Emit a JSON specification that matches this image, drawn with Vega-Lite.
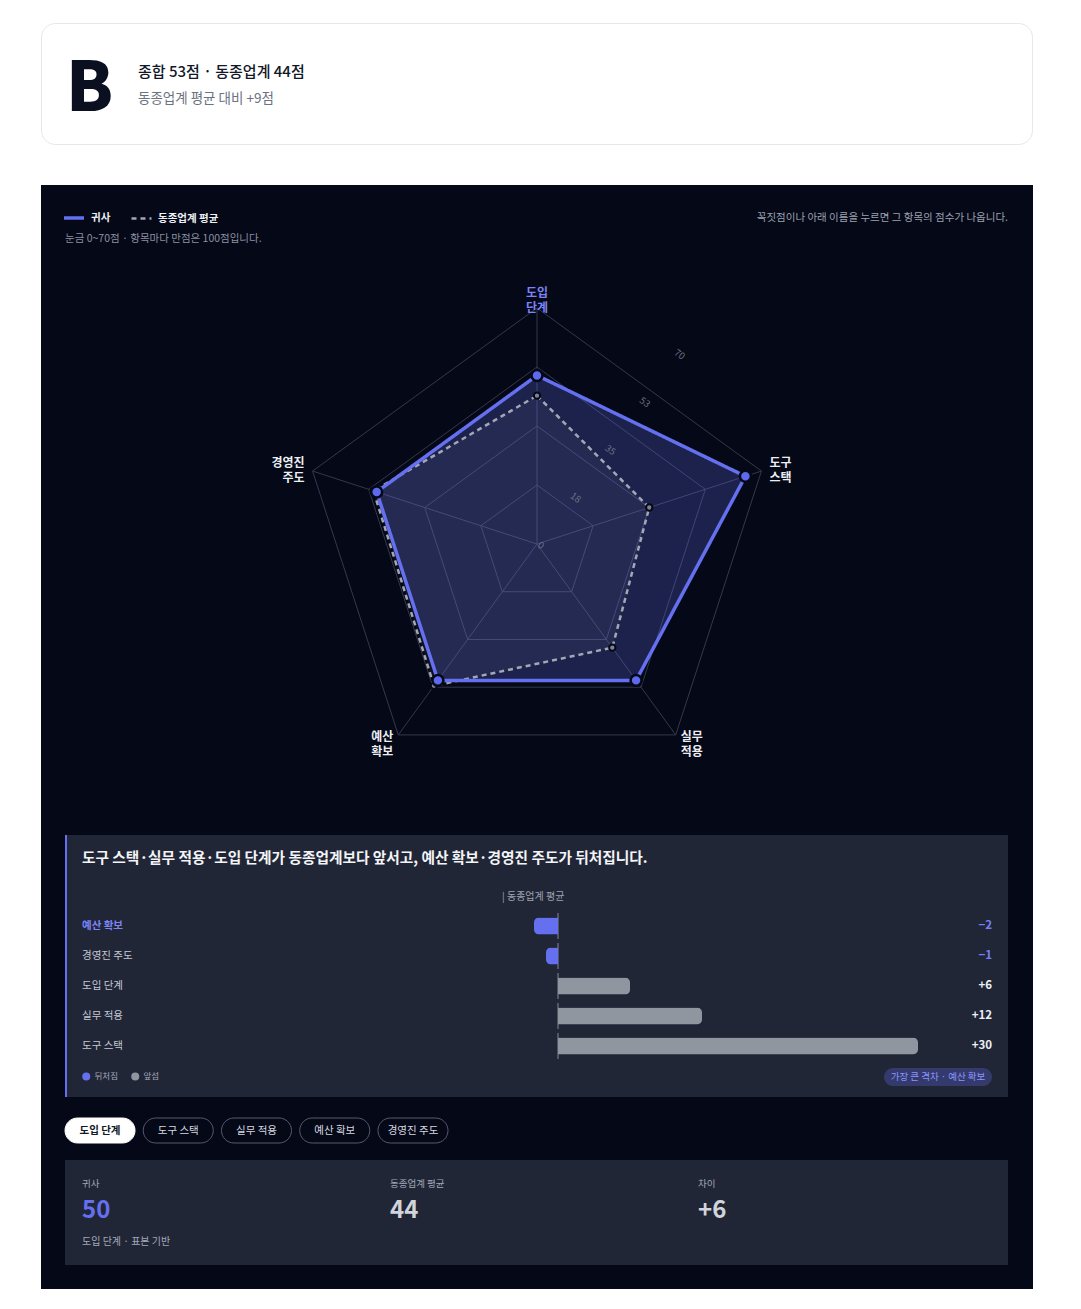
{
  "$schema": "https://vega.github.io/schema/vega-lite/v6.json",
  "background": "#ffffff",
  "padding": {"left": 40, "top": 22, "right": 49, "bottom": 20},
  "config": {"font": "Noto Sans CJK KR", "view": {"stroke": null}},
  "datasets": {
    "scores": [
      {"axis": "도입 단계", "i": 0, "series": "동종업계 평균", "score": 44},
      {"axis": "도구 스택", "i": 1, "series": "동종업계 평균", "score": 35},
      {"axis": "실무 적용", "i": 2, "series": "동종업계 평균", "score": 38},
      {"axis": "예산 확보", "i": 3, "series": "동종업계 평균", "score": 52},
      {"axis": "경영진 주도", "i": 4, "series": "동종업계 평균", "score": 51},
      {"axis": "도입 단계", "i": 0, "series": "귀사", "score": 50},
      {"axis": "도구 스택", "i": 1, "series": "귀사", "score": 65},
      {"axis": "실무 적용", "i": 2, "series": "귀사", "score": 50},
      {"axis": "예산 확보", "i": 3, "series": "귀사", "score": 50},
      {"axis": "경영진 주도", "i": 4, "series": "귀사", "score": 50}
    ],
    "rings": [
      {"i": 0, "level": 17.5}, {"i": 1, "level": 17.5}, {"i": 2, "level": 17.5}, {"i": 3, "level": 17.5}, {"i": 4, "level": 17.5},
      {"i": 0, "level": 35}, {"i": 1, "level": 35}, {"i": 2, "level": 35}, {"i": 3, "level": 35}, {"i": 4, "level": 35},
      {"i": 0, "level": 52.5}, {"i": 1, "level": 52.5}, {"i": 2, "level": 52.5}, {"i": 3, "level": 52.5}, {"i": 4, "level": 52.5},
      {"i": 0, "level": 70}, {"i": 1, "level": 70}, {"i": 2, "level": 70}, {"i": 3, "level": 70}, {"i": 4, "level": 70}
    ],
    "ticks": [{"level": 0}, {"level": 17.5}, {"level": 35}, {"level": 52.5}, {"level": 70}],
    "gaps": [
      {"axis": "예산 확보", "gap": -2},
      {"axis": "경영진 주도", "gap": -1},
      {"axis": "도입 단계", "gap": 6},
      {"axis": "실무 적용", "gap": 12},
      {"axis": "도구 스택", "gap": 30}
    ],
    "chips": [
      {"chip": "도입 단계", "on": true},
      {"chip": "도구 스택", "on": false},
      {"chip": "실무 적용", "on": false},
      {"chip": "예산 확보", "on": false},
      {"chip": "경영진 주도", "on": false}
    ],
    "summary": [
      {"k": "귀사", "v": 50},
      {"k": "동종업계 평균", "v": 44},
      {"k": "차이", "v": 6}
    ],
    "overall": [{"grade": "B", "total": 53, "peer": 44}]
  },
  "spacing": 40,
  "resolve": {"scale": {"color": "independent", "strokeDash": "independent", "strokeWidth": "independent", "fill": "independent", "stroke": "independent"}},
  "vconcat": [
    {
      "width": 991, "height": 121,
      "view": {"fill": "#ffffff", "stroke": "#e5e7eb", "strokeWidth": 1, "cornerRadius": 14},
      "data": {"name": "overall"},
      "transform": [
        {"calculate": "'종합 ' + datum.total + '점 · 동종업계 ' + datum.peer + '점'", "as": "headline"},
        {"calculate": "'동종업계 평균 대비 +' + (datum.total - datum.peer) + '점'", "as": "sub"}
      ],
      "layer": [
        {"mark": {"type": "text", "fontSize": 68, "fontWeight": 800, "color": "#0b1020", "align": "left", "baseline": "alphabetic"},
         "encoding": {"x": {"value": 25}, "y": {"value": 88}, "text": {"field": "grade"}}},
        {"mark": {"type": "text", "fontSize": 15, "fontWeight": 500, "color": "#111827", "align": "left", "baseline": "middle"},
         "encoding": {"x": {"value": 97}, "y": {"value": 49}, "text": {"field": "headline"}}},
        {"mark": {"type": "text", "fontSize": 13.5, "color": "#6b7280", "align": "left", "baseline": "middle"},
         "encoding": {"x": {"value": 97}, "y": {"value": 76}, "text": {"field": "sub"}}}
      ]
    },
    {
      "spacing": 0,
      "resolve": {"scale": {"color": "independent", "strokeDash": "independent", "strokeWidth": "independent", "fill": "independent", "stroke": "independent"}},
      "vconcat": [
        {
          "width": 992, "height": 650,
          "view": {"fill": "#050816", "stroke": null},
          "layer": [
            {
              "data": {"name": "rings"},
              "transform": [
                {"calculate": "datum.level * sin(datum.i * 2 * PI / 5)", "as": "px"},
                {"calculate": "datum.level * cos(datum.i * 2 * PI / 5)", "as": "py"}
              ],
              "mark": {"type": "line", "interpolate": "linear-closed", "stroke": "#33384d", "strokeWidth": 1},
              "encoding": {
                "x": {"field": "px", "type": "quantitative", "scale": {"domain": [-147.12, 147.12], "nice": false, "zero": false}, "axis": null},
                "y": {"field": "py", "type": "quantitative", "scale": {"domain": [-86.31, 106.48], "nice": false, "zero": false}, "axis": null},
                "detail": {"field": "level", "type": "nominal"},
                "order": {"field": "i", "type": "quantitative"}
              }
            },
            {
              "data": {"name": "rings"},
              "transform": [
                {"filter": "datum.level == 70"},
                {"calculate": "datum.level * sin(datum.i * 2 * PI / 5)", "as": "px"},
                {"calculate": "datum.level * cos(datum.i * 2 * PI / 5)", "as": "py"}
              ],
              "mark": {"type": "rule", "stroke": "#33384d", "strokeWidth": 1},
              "encoding": {
                "x": {"field": "px", "type": "quantitative"},
                "y": {"field": "py", "type": "quantitative"},
                "x2": {"datum": 0},
                "y2": {"datum": 0}
              }
            },
            {
              "data": {"name": "scores"},
              "transform": [
                {"filter": "datum.series == '귀사'"},
                {"calculate": "datum.score * sin(datum.i * 2 * PI / 5)", "as": "px"},
                {"calculate": "datum.score * cos(datum.i * 2 * PI / 5)", "as": "py"}
              ],
              "mark": {"type": "line", "interpolate": "linear-closed", "fill": "#6470f0", "fillOpacity": 0.25, "strokeOpacity": 0},
              "encoding": {
                "x": {"field": "px", "type": "quantitative"},
                "y": {"field": "py", "type": "quantitative"},
                "order": {"field": "i", "type": "quantitative"}
              }
            },
            {
              "data": {"name": "scores"},
              "transform": [
                {"filter": "datum.series == '동종업계 평균'"},
                {"calculate": "datum.score * sin(datum.i * 2 * PI / 5)", "as": "px"},
                {"calculate": "datum.score * cos(datum.i * 2 * PI / 5)", "as": "py"}
              ],
              "mark": {"type": "line", "interpolate": "linear-closed", "fill": "#a3a7b3", "fillOpacity": 0.06, "strokeOpacity": 0},
              "encoding": {
                "x": {"field": "px", "type": "quantitative"},
                "y": {"field": "py", "type": "quantitative"},
                "order": {"field": "i", "type": "quantitative"}
              }
            },
            {
              "data": {"name": "scores"},
              "transform": [
                {"calculate": "datum.score * sin(datum.i * 2 * PI / 5)", "as": "px"},
                {"calculate": "datum.score * cos(datum.i * 2 * PI / 5)", "as": "py"}
              ],
              "mark": {"type": "line", "interpolate": "linear-closed"},
              "encoding": {
                "x": {"field": "px", "type": "quantitative"},
                "y": {"field": "py", "type": "quantitative"},
                "order": {"field": "i", "type": "quantitative"},
                "color": {"field": "series", "type": "nominal",
                  "scale": {"domain": ["귀사", "동종업계 평균"], "range": ["#6470f0", "#a3a7b3"]},
                  "legend": {"orient": "none", "legendX": 21, "legendY": 21, "direction": "horizontal", "title": null, "symbolType": "stroke", "symbolSize": 400, "symbolStrokeWidth": 2, "labelColor": "#eef0f5", "labelFontSize": 10.5, "labelFontWeight": "bold", "columnPadding": 15, "labelOffset": 5}},
                "strokeDash": {"field": "series", "type": "nominal",
                  "scale": {"domain": ["귀사", "동종업계 평균"], "range": [[1, 0], [5, 4]]},
                  "legend": {"orient": "none", "legendX": 21, "legendY": 21, "direction": "horizontal", "title": null, "symbolType": "stroke", "symbolSize": 400, "symbolStrokeWidth": 2, "labelColor": "#eef0f5", "labelFontSize": 10.5, "labelFontWeight": "bold", "columnPadding": 15, "labelOffset": 5}},
                "strokeWidth": {"field": "series", "type": "ordinal", "scale": {"domain": ["귀사", "동종업계 평균"], "range": [3.5, 2.5]}, "legend": null}
              }
            },
            {
              "data": {"name": "scores"},
              "transform": [
                {"filter": "datum.series == '동종업계 평균'"},
                {"calculate": "datum.score * sin(datum.i * 2 * PI / 5)", "as": "px"},
                {"calculate": "datum.score * cos(datum.i * 2 * PI / 5)", "as": "py"}
              ],
              "mark": {"type": "circle", "size": 40, "fill": "#7d8296", "stroke": "#050816", "strokeWidth": 2, "opacity": 1},
              "encoding": {
                "x": {"field": "px", "type": "quantitative"},
                "y": {"field": "py", "type": "quantitative"}
              }
            },
            {
              "data": {"name": "scores"},
              "transform": [
                {"filter": "datum.series == '귀사'"},
                {"calculate": "datum.score * sin(datum.i * 2 * PI / 5)", "as": "px"},
                {"calculate": "datum.score * cos(datum.i * 2 * PI / 5)", "as": "py"}
              ],
              "mark": {"type": "circle", "size": 120, "fill": "#5d69ee", "stroke": "#050816", "strokeWidth": 2.5, "opacity": 1},
              "encoding": {
                "x": {"field": "px", "type": "quantitative"},
                "y": {"field": "py", "type": "quantitative"}
              }
            },
            {
              "data": {"name": "scores"},
              "transform": [
                {"filter": "datum.series == '귀사' && datum.i == 0"},
                {"calculate": "70 * sin(datum.i * 2 * PI / 5)", "as": "px"},
                {"calculate": "70 * cos(datum.i * 2 * PI / 5)", "as": "py"}
              ],
              "mark": {"type": "text", "lineBreak": " ", "lineHeight": 15, "fontSize": 12, "fontWeight": "bold", "color": "#7b84f7", "align": "center", "baseline": "bottom", "dy": -8},
              "encoding": {"x": {"field": "px", "type": "quantitative"}, "y": {"field": "py", "type": "quantitative"}, "text": {"field": "axis"}}
            },
            {
              "data": {"name": "scores"},
              "transform": [
                {"filter": "datum.series == '귀사' && datum.i == 1"},
                {"calculate": "70 * sin(datum.i * 2 * PI / 5)", "as": "px"},
                {"calculate": "70 * cos(datum.i * 2 * PI / 5)", "as": "py"}
              ],
              "mark": {"type": "text", "lineBreak": " ", "lineHeight": 15, "fontSize": 12, "fontWeight": "bold", "color": "#eceef3", "align": "left", "baseline": "middle", "dx": 8, "dy": -8},
              "encoding": {"x": {"field": "px", "type": "quantitative"}, "y": {"field": "py", "type": "quantitative"}, "text": {"field": "axis"}}
            },
            {
              "data": {"name": "scores"},
              "transform": [
                {"filter": "datum.series == '귀사' && datum.i == 4"},
                {"calculate": "70 * sin(datum.i * 2 * PI / 5)", "as": "px"},
                {"calculate": "70 * cos(datum.i * 2 * PI / 5)", "as": "py"}
              ],
              "mark": {"type": "text", "lineBreak": " ", "lineHeight": 15, "fontSize": 12, "fontWeight": "bold", "color": "#eceef3", "align": "right", "baseline": "middle", "dx": -8, "dy": -8},
              "encoding": {"x": {"field": "px", "type": "quantitative"}, "y": {"field": "py", "type": "quantitative"}, "text": {"field": "axis"}}
            },
            {
              "data": {"name": "scores"},
              "transform": [
                {"filter": "datum.series == '귀사' && datum.i == 2"},
                {"calculate": "70 * sin(datum.i * 2 * PI / 5)", "as": "px"},
                {"calculate": "70 * cos(datum.i * 2 * PI / 5)", "as": "py"}
              ],
              "mark": {"type": "text", "lineBreak": " ", "lineHeight": 15, "fontSize": 12, "fontWeight": "bold", "color": "#eceef3", "align": "left", "baseline": "top", "dx": 5, "dy": -3},
              "encoding": {"x": {"field": "px", "type": "quantitative"}, "y": {"field": "py", "type": "quantitative"}, "text": {"field": "axis"}}
            },
            {
              "data": {"name": "scores"},
              "transform": [
                {"filter": "datum.series == '귀사' && datum.i == 3"},
                {"calculate": "70 * sin(datum.i * 2 * PI / 5)", "as": "px"},
                {"calculate": "70 * cos(datum.i * 2 * PI / 5)", "as": "py"}
              ],
              "mark": {"type": "text", "lineBreak": " ", "lineHeight": 15, "fontSize": 12, "fontWeight": "bold", "color": "#eceef3", "align": "right", "baseline": "top", "dx": -5, "dy": -3},
              "encoding": {"x": {"field": "px", "type": "quantitative"}, "y": {"field": "py", "type": "quantitative"}, "text": {"field": "axis"}}
            },
            {
              "data": {"name": "ticks"},
              "transform": [
                {"calculate": "datum.level * sin(PI / 5)", "as": "px"},
                {"calculate": "datum.level * cos(PI / 5)", "as": "py"}
              ],
              "mark": {"type": "text", "fontSize": 9.5, "color": "#6b7086", "angle": 36, "align": "center", "baseline": "middle", "dx": 4, "dy": -1},
              "encoding": {"x": {"field": "px", "type": "quantitative"}, "y": {"field": "py", "type": "quantitative"}, "text": {"field": "level", "type": "quantitative", "format": ".0f"}}
            },
            {
              "data": {"values": [{}]},
              "mark": {"type": "text", "text": "눈금 0~70점 · 항목마다 만점은 100점입니다.", "fontSize": 10.5, "color": "#8b90a3", "align": "left", "baseline": "middle"},
              "encoding": {"x": {"value": 24}, "y": {"value": 54}}
            },
            {
              "data": {"values": [{}]},
              "mark": {"type": "text", "text": "꼭짓점이나 아래 이름을 누르면 그 항목의 점수가 나옵니다.", "fontSize": 10.5, "color": "#9ca1b3", "align": "right", "baseline": "middle"},
              "encoding": {"x": {"value": 967}, "y": {"value": 33}}
            }
          ]
        },
        {
          "spacing": 0,
          "bounds": "flush",
          "resolve": {"scale": {"color": "independent"}},
          "hconcat": [
            {"width": 24, "height": 262, "view": {"fill": "#050816", "stroke": null}, "data": {"values": [{}]}, "mark": {"type": "text", "text": ""}},
            {"width": 2, "height": 262, "view": {"fill": "#6470f0", "stroke": null}, "data": {"values": [{}]}, "mark": {"type": "text", "text": ""}},
            {
              "width": 941, "height": 262,
              "view": {"fill": "#212637", "stroke": null},
              "layer": [
                {
                  "data": {"values": [{}]},
                  "mark": {"type": "text", "text": "도구 스택·실무 적용·도입 단계가 동종업계보다 앞서고, 예산 확보·경영진 주도가 뒤처집니다.", "fontSize": 14.7, "fontWeight": "bold", "color": "#f3f4f6", "align": "left", "baseline": "middle"},
                  "encoding": {"x": {"value": 15}, "y": {"value": 24}}
                },
                {
                  "data": {"values": [{}]},
                  "mark": {"type": "text", "text": "|  동종업계 평균", "fontSize": 10, "color": "#9ca3af", "align": "left", "baseline": "middle"},
                  "encoding": {"x": {"value": 435}, "y": {"value": 62}}
                },
                {
                  "data": {"name": "gaps"},
                  "transform": [{"calculate": "0", "as": "zero"}],
                  "mark": {"type": "tick", "size": 26, "thickness": 1, "color": "#9aa0b2", "opacity": 0.8},
                  "encoding": {
                    "x": {"field": "zero", "type": "quantitative", "scale": {"domain": [-40.917, 37.5], "nice": false, "zero": true}, "axis": null},
                    "y": {"field": "axis", "type": "nominal", "sort": null, "scale": {"domain": ["예산 확보", "경영진 주도", "도입 단계", "실무 적용", "도구 스택"], "range": [76, 226], "paddingInner": 0.433, "paddingOuter": 0.2167}, "axis": null}
                  }
                },
                {
                  "data": {"name": "gaps"},
                  "transform": [
                    {"filter": "datum.gap > 0"},
                    {"calculate": "datum.gap < 0 ? '뒤처짐' : '앞섬'", "as": "status"}
                  ],
                  "mark": {"type": "bar", "cornerRadiusTopRight": 5, "cornerRadiusBottomRight": 5},
                  "encoding": {
                    "x": {"field": "gap", "type": "quantitative"},
                    "y": {"field": "axis", "type": "nominal", "sort": null},
                    "color": {"field": "status", "type": "nominal",
                      "scale": {"domain": ["뒤처짐", "앞섬"], "range": ["#6470f0", "#8f969f"]},
                      "legend": {"orient": "none", "legendX": 15, "legendY": 237, "direction": "horizontal", "title": null, "symbolType": "circle", "symbolSize": 64, "symbolStrokeWidth": 0, "labelFontSize": 8.5, "labelColor": "#a3a8b8", "columnPadding": 13, "labelOffset": 4}}
                  }
                },
                {
                  "data": {"name": "gaps"},
                  "transform": [
                    {"filter": "datum.gap < 0"},
                    {"calculate": "datum.gap < 0 ? '뒤처짐' : '앞섬'", "as": "status"}
                  ],
                  "mark": {"type": "bar", "cornerRadiusTopLeft": 5, "cornerRadiusBottomLeft": 5},
                  "encoding": {
                    "x": {"field": "gap", "type": "quantitative"},
                    "y": {"field": "axis", "type": "nominal", "sort": null},
                    "color": {"field": "status", "type": "nominal"}
                  }
                },
                {
                  "data": {"name": "gaps"},
                  "transform": [{"filter": "datum.axis != '예산 확보'"}],
                  "mark": {"type": "text", "fontSize": 10.5, "color": "#c4c8d4", "align": "left", "baseline": "middle"},
                  "encoding": {"x": {"value": 15}, "y": {"field": "axis", "type": "nominal", "sort": null}, "text": {"field": "axis"}}
                },
                {
                  "data": {"name": "gaps"},
                  "transform": [{"filter": "datum.axis == '예산 확보'"}],
                  "mark": {"type": "text", "fontSize": 10.5, "fontWeight": "bold", "color": "#7b84f7", "align": "left", "baseline": "middle"},
                  "encoding": {"x": {"value": 15}, "y": {"field": "axis", "type": "nominal", "sort": null}, "text": {"field": "axis"}}
                },
                {
                  "data": {"name": "gaps"},
                  "mark": {"type": "text", "fontSize": 11.5, "fontWeight": "bold", "align": "right", "baseline": "middle"},
                  "encoding": {
                    "x": {"value": 925},
                    "y": {"field": "axis", "type": "nominal", "sort": null},
                    "text": {"field": "gap", "type": "quantitative", "format": "+d"},
                    "color": {"condition": {"test": "datum.gap < 0", "value": "#7680f5"}, "value": "#eef0f4"}
                  }
                },
                {
                  "data": {"values": [{}]},
                  "mark": {"type": "rect", "fill": "#343b6c", "cornerRadius": 9},
                  "encoding": {"x": {"value": 817}, "x2": {"value": 925}, "y": {"value": 233}, "y2": {"value": 251}}
                },
                {
                  "data": {"values": [{}]},
                  "mark": {"type": "text", "text": "가장 큰 격차 · 예산 확보", "fontSize": 9.5, "color": "#8c95ff", "align": "center", "baseline": "middle"},
                  "encoding": {"x": {"value": 871}, "y": {"value": 242}}
                }
              ]
            },
            {"width": 25, "height": 262, "view": {"fill": "#050816", "stroke": null}, "data": {"values": [{}]}, "mark": {"type": "text", "text": ""}}
          ]
        },
        {
          "width": 992, "height": 63,
          "view": {"fill": "#050816", "stroke": null},
          "data": {"name": "chips"},
          "encoding": {
            "x": {"field": "chip", "type": "nominal", "sort": null, "scale": {"domain": ["도입 단계", "도구 스택", "실무 적용", "예산 확보", "경영진 주도"], "range": [24, 407], "paddingInner": 0.105, "paddingOuter": 0}, "axis": null}
          },
          "layer": [
            {
              "mark": {"type": "bar", "cornerRadius": 12.5, "strokeWidth": 1},
              "encoding": {
                "y": {"value": 21},
                "y2": {"value": 46},
                "fill": {"condition": {"test": "datum.on", "value": "#ffffff"}, "value": "#050816"},
                "stroke": {"condition": {"test": "datum.on", "value": "#ffffff"}, "value": "#555a70"}
              }
            },
            {
              "transform": [{"filter": "datum.on"}],
              "mark": {"type": "text", "fontSize": 10.5, "fontWeight": "bold", "color": "#111827", "baseline": "middle"},
              "encoding": {"y": {"value": 33.5}, "text": {"field": "chip"}}
            },
            {
              "transform": [{"filter": "!datum.on"}],
              "mark": {"type": "text", "fontSize": 10.5, "color": "#d5d8e0", "baseline": "middle"},
              "encoding": {"y": {"value": 33.5}, "text": {"field": "chip"}}
            }
          ]
        },
        {
          "spacing": 0,
          "bounds": "flush",
          "hconcat": [
            {"width": 24, "height": 105, "view": {"fill": "#050816", "stroke": null}, "data": {"values": [{}]}, "mark": {"type": "text", "text": ""}},
            {
              "width": 943, "height": 105,
              "view": {"fill": "#212637", "stroke": null},
              "data": {"name": "summary"},
              "transform": [{"calculate": "datum.k == '차이' ? '+' + datum.v : '' + datum.v", "as": "vt"}],
              "encoding": {
                "x": {"field": "k", "type": "nominal", "sort": null, "scale": {"type": "point", "domain": ["귀사", "동종업계 평균", "차이"], "range": [17, 633], "padding": 0}, "axis": null}
              },
              "layer": [
                {
                  "mark": {"type": "text", "align": "left", "baseline": "middle", "fontSize": 9.5, "color": "#a3a8b6"},
                  "encoding": {"y": {"value": 24}, "text": {"field": "k"}}
                },
                {
                  "mark": {"type": "text", "align": "left", "baseline": "middle", "fontSize": 24, "fontWeight": "bold"},
                  "encoding": {
                    "y": {"value": 51},
                    "text": {"field": "vt"},
                    "color": {"condition": {"test": "datum.k == '귀사'", "value": "#6470f0"}, "value": "#d1d5db"}
                  }
                },
                {
                  "data": {"values": [{}]},
                  "mark": {"type": "text", "text": "도입 단계 · 표본 기반", "align": "left", "baseline": "middle", "fontSize": 10, "color": "#a3a8b6"},
                  "encoding": {"x": {"value": 17}, "y": {"value": 82}}
                }
              ]
            },
            {"width": 25, "height": 105, "view": {"fill": "#050816", "stroke": null}, "data": {"values": [{}]}, "mark": {"type": "text", "text": ""}}
          ]
        },
        {"width": 992, "height": 24, "view": {"fill": "#050816", "stroke": null}, "data": {"values": [{}]}, "mark": {"type": "text", "text": ""}}
      ]
    }
  ]
}
